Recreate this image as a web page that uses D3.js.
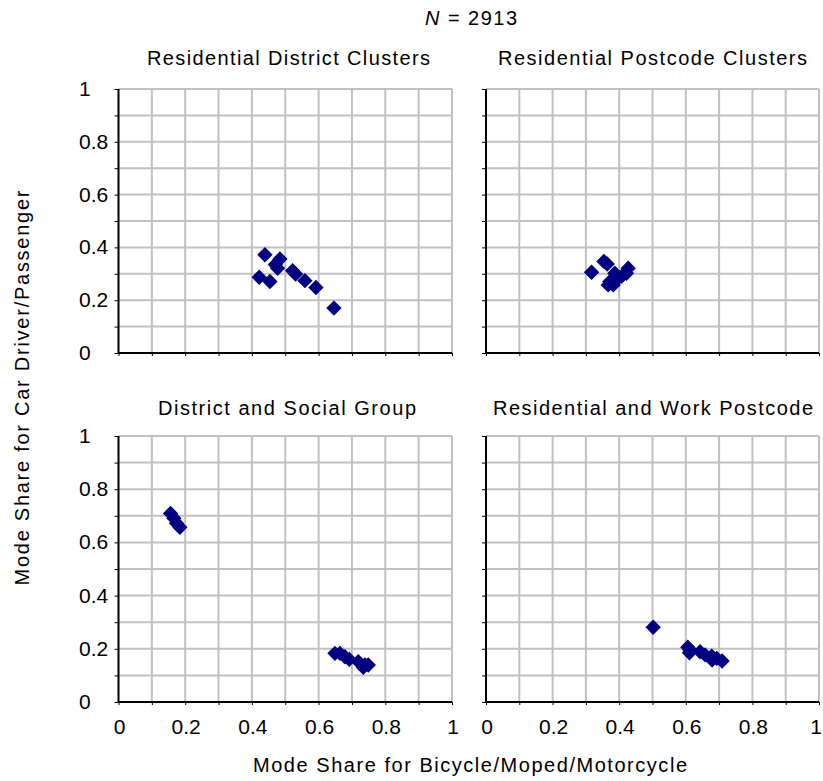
<!DOCTYPE html>
<html>
<head>
<meta charset="utf-8">
<script src="https://cdn.jsdelivr.net/npm/d3@7"></script>
<style>
  body { margin: 0; background: #fff; }
  text { font-family: "Liberation Sans", Arial, sans-serif; fill: #000; }
</style>
</head>
<body>
<div id="chart"></div>
<script>
// panel titles, in reading order
const panelTitles = [
  "Residential District Clusters",
  "Residential Postcode Clusters",
  "District and Social Group",
  "Residential and Work Postcode"
];

// [bicycle share, car share] per cluster
const districtClusters = [
  [0.439, 0.372], [0.484, 0.356], [0.477, 0.321], [0.470, 0.335], [0.422, 0.287],
  [0.454, 0.271], [0.522, 0.312], [0.531, 0.299], [0.559, 0.274], [0.592, 0.248],
  [0.646, 0.170]
];
const postcodeClusters = [
  [0.317, 0.306], [0.354, 0.347], [0.364, 0.337], [0.372, 0.271], [0.367, 0.258],
  [0.387, 0.302], [0.392, 0.277], [0.382, 0.258], [0.407, 0.290], [0.427, 0.321],
  [0.422, 0.302]
];
const districtSocial = [
  [0.156, 0.709], [0.166, 0.691], [0.174, 0.672], [0.184, 0.657],
  [0.649, 0.183], [0.664, 0.183], [0.679, 0.170], [0.692, 0.160],
  [0.719, 0.152], [0.739, 0.139], [0.734, 0.130], [0.749, 0.139]
];
const workPostcode = [
  [0.502, 0.281], [0.606, 0.206], [0.611, 0.185], [0.612, 0.196], [0.643, 0.189],
  [0.658, 0.177], [0.678, 0.172], [0.679, 0.158], [0.693, 0.164], [0.709, 0.154]
];
const panelData = [districtClusters, postcodeClusters, districtSocial, workPostcode];

const gridTicks = d3.range(0, 11).map(d => d / 10);
const labelTicks = [0, 0.2, 0.4, 0.6, 0.8, 1];
const labelFmt = d => d === 0 || d === 1 ? String(d) : d.toFixed(1);

const width = 823, height = 781;
const svg = d3.select('#chart').append('svg')
  .attr('width', width)
  .attr('height', height);

// plot areas
const cols = [[118.5, 452], [486, 819]];
const rows = [[89, 353], [436, 702]];
const titleBase = [65, 415];
// title centres and widths (the original font is wide)
const titleX = [288.5, 652.5, 287, 653];
const titleW = [283, 309, 258, 320];

const fontSize = 20;

svg.append('text')
  .attr('x', 471).attr('y', 25)
  .attr('text-anchor', 'middle')
  .attr('textLength', 92)
  .style('font-size', fontSize + 'px')
  .html('<tspan font-style="italic">N</tspan> = 2913');

panelData.forEach((pts, i) => {
  const c = i % 2, r = Math.floor(i / 2);
  const x = d3.scaleLinear().domain([0, 1]).range(cols[c]);
  const y = d3.scaleLinear().domain([0, 1]).range([rows[r][1], rows[r][0]]);
  const g = svg.append('g');

  // grid
  g.selectAll('.vg').data(gridTicks.slice(1)).enter().append('line')
    .attr('x1', d => x(d)).attr('x2', d => x(d))
    .attr('y1', y(0)).attr('y2', y(1))
    .attr('stroke', '#c0c0c0').attr('stroke-width', 2);
  g.selectAll('.hg').data(gridTicks.slice(1)).enter().append('line')
    .attr('x1', x(0)).attr('x2', x(1))
    .attr('y1', d => y(d)).attr('y2', d => y(d))
    .attr('stroke', '#c0c0c0').attr('stroke-width', 2);

  // axes
  g.append('g')
    .attr('transform', `translate(0,${y(0)})`)
    .call(d3.axisBottom(x).tickValues(gridTicks).tickSize(3).tickFormat(''))
    .call(a => a.select('.domain').attr('stroke-width', 2).attr('d', `M${x(0)},0H${x(1)}`));
  g.append('g')
    .attr('transform', `translate(${x(0)},0)`)
    .call(d3.axisLeft(y).tickValues(gridTicks).tickSize(4).tickFormat(''))
    .call(a => a.select('.domain').attr('stroke-width', 2).attr('d', `M0,${y(0)}V${y(1)}`));

  // x labels
  if (r === 1) {
    g.selectAll('.xl').data(labelTicks).enter().append('text')
      .attr('x', d => Math.min(x(d) + 1, 816)).attr('y', y(0) + 32)
      .attr('text-anchor', 'middle')
      .style('font-size', (fontSize + 1) + 'px')
      .text(labelFmt);
  }
  // y labels
  if (c === 0) {
    g.selectAll('.yl').data(labelTicks).enter().append('text')
      .attr('x', 79).attr('y', d => y(d) + 7)
      .style('font-size', (fontSize + 1) + 'px')
      .text(labelFmt);
  }

  // title
  g.append('text')
    .attr('x', titleX[i])
    .attr('y', titleBase[r])
    .attr('text-anchor', 'middle')
    .attr('textLength', titleW[i])
    .style('font-size', fontSize + 'px')
    .text(panelTitles[i]);

  // points
  g.selectAll('.pt').data(pts).enter().append('path')
    .attr('d', d3.symbol(d3.symbolDiamond2, 150))
    .attr('transform', d => `translate(${x(d[0])},${y(d[1])})`)
    .attr('fill', '#000080');
});

svg.append('text')
  .attr('x', 470).attr('y', 772)
  .attr('text-anchor', 'middle')
  .attr('textLength', 434)
  .style('font-size', fontSize + 'px')
  .text('Mode Share for Bicycle/Moped/Motorcycle');

svg.append('text')
  .attr('transform', 'translate(29,388) rotate(-90)')
  .attr('text-anchor', 'middle')
  .attr('textLength', 395)
  .style('font-size', fontSize + 'px')
  .text('Mode Share for Car Driver/Passenger');
</script>
</body>
</html>
